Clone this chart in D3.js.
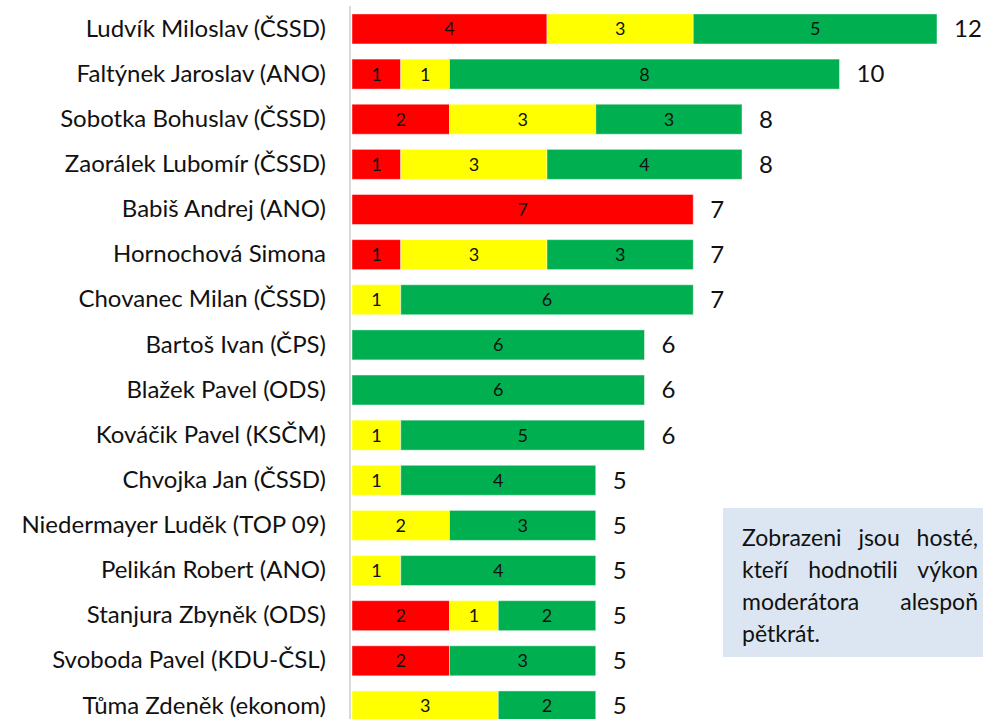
<!DOCTYPE html>
<html lang="cs">
<head>
<meta charset="UTF-8">
<title>Hodnocení moderátora</title>
<script src="https://cdn.jsdelivr.net/npm/d3@7"></script>
<style>
  body { margin: 0; background: #fff; }
  .note {
    position: absolute; left: 723px; top: 508px; width: 260px; height: 149px;
    background: #dce6f2; box-sizing: border-box; padding: 13px 5px 0 19px;
    font-family: Lato, "Open Sans", sans-serif; font-size: 23px; line-height: 32px;
    color: #111;
  }
  .note div { text-align: justify; text-align-last: justify; white-space: nowrap; }
  .note div.last { text-align-last: left; }
</style>
</head>
<body>
<div class="note">
  <div>Zobrazeni jsou hosté,</div>
  <div>kteří hodnotili výkon</div>
  <div>moderátora alespoň</div>
  <div class="last">pětkrát.</div>
</div>
<script>
let width = 983, height = 719;

let names = [
  'Ludvík Miloslav (ČSSD)', 'Faltýnek Jaroslav (ANO)', 'Sobotka Bohuslav (ČSSD)',
  'Zaorálek Lubomír (ČSSD)', 'Babiš Andrej (ANO)', 'Hornochová Simona',
  'Chovanec Milan (ČSSD)', 'Bartoš Ivan (ČPS)', 'Blažek Pavel (ODS)',
  'Kováčik Pavel (KSČM)', 'Chvojka Jan (ČSSD)', 'Niedermayer Luděk (TOP 09)',
  'Pelikán Robert (ANO)', 'Stanjura Zbyněk (ODS)', 'Svoboda Pavel (KDU-ČSL)',
  'Tůma Zdeněk (ekonom)'
];
let red    = [4, 1, 2, 1, 7, 1, 0, 0, 0, 0, 0, 0, 0, 2, 2, 0];
let yellow = [3, 1, 3, 3, 0, 3, 1, 0, 0, 1, 1, 2, 1, 1, 0, 3];
let green  = [5, 8, 3, 4, 0, 3, 6, 6, 6, 5, 4, 3, 4, 2, 3, 2];

let keys = ['red', 'yellow', 'green'];
let colors = {red: '#ff0000', yellow: '#ffff00', green: '#00b050'};
let font = 'Lato, "Open Sans", sans-serif';

let rows = names.map(function (n, i) {
  return {name: n, red: red[i], yellow: yellow[i], green: green[i]};
});

let svg = d3.select('body').append('svg')
  .attr('width', width)
  .attr('height', height)
  .style('position', 'absolute').style('left', 0).style('top', 0);

let x = d3.scaleLinear().domain([0, 12]).range([352, 937]);
let y = d3.scaleBand().domain(names).range([6.4, 728.5])
  .paddingInner(0.335).paddingOuter(0.1675);

let series = d3.stack().keys(keys)(rows);

// bars
let groups = svg.selectAll('g.series')
  .data(series)
  .enter()
  .append('g')
  .attr('class', 'series')
  .attr('fill', function (d) { return colors[d.key]; });

groups.selectAll('rect')
  .data(function (d) { return d.filter(function (v) { return v[1] > v[0]; }); })
  .enter()
  .append('rect')
  .attr('x', function (d) { return x(d[0]); })
  .attr('y', function (d) { return y(d.data.name); })
  .attr('width', function (d) { return x(d[1]) - x(d[0]); })
  .attr('height', y.bandwidth())
  .attr('stroke', '#ffffff')
  .attr('stroke-opacity', 0.45)
  .attr('stroke-width', 1);

// segment labels
groups.selectAll('text')
  .data(function (d) { return d.filter(function (v) { return v[1] > v[0]; }); })
  .enter()
  .append('text')
  .attr('x', function (d) { return (x(d[0]) + x(d[1])) / 2; })
  .attr('y', function (d) { return y(d.data.name) + y.bandwidth() / 2; })
  .attr('dy', '0.36em')
  .attr('text-anchor', 'middle')
  .attr('fill', '#111')
  .style('font-family', font)
  .style('font-size', '18px')
  .text(function (d) { return d[1] - d[0]; });

// axis with category labels
let ax = svg.append('g')
  .attr('transform', 'translate(350,0)')
  .call(d3.axisLeft(y).tickSize(0).tickPadding(24));
ax.select('.domain').attr('stroke', '#d9d9d9').attr('stroke-width', 2)
  .attr('d', 'M0,6V719');
ax.selectAll('text')
  .style('font-family', font)
  .style('font-size', '24px')
  .attr('fill', '#111');

// totals
svg.append('g').selectAll('text')
  .data(rows)
  .enter()
  .append('text')
  .attr('x', function (d) { return x(d.red + d.yellow + d.green) + 17; })
  .attr('y', function (d) { return y(d.name) + y.bandwidth() / 2; })
  .attr('dy', '0.35em')
  .attr('fill', '#111')
  .style('font-family', font)
  .style('font-size', '24px')
  .text(function (d) { return d.red + d.yellow + d.green; });
</script>
</body>
</html>
